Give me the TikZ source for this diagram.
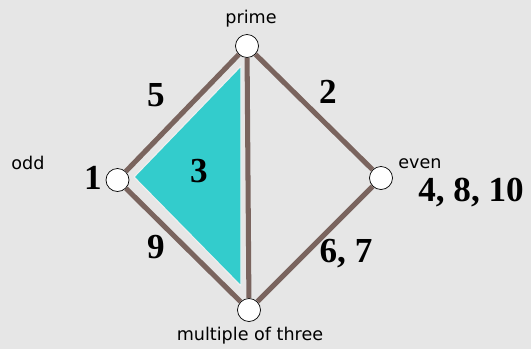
\documentclass[tikz,border=0pt]{standalone}
\usepackage{fontspec}
\setmainfont{Liberation Serif}
\setsansfont{DejaVu Sans}
\definecolor{SetBack}{HTML}{E6E6E6}
\definecolor{SetEdge}{HTML}{7A645E}
\definecolor{SetCyan}{HTML}{33CCCC}
\definecolor{SetGap}{HTML}{EFEFEF}
\tikzset{
  vert/.style={circle,draw=black,fill=white,line width=0.6pt,inner sep=0pt,minimum size=6.9mm},
  edge/.style={SetEdge,line width=4.3pt},
  lbl/.style={inner sep=0pt,font=\sffamily\fontsize{15}{18}\selectfont},
  num/.style={inner sep=0pt,font=\bfseries\fontsize{30}{30}\selectfont}
}

\begin{document}
\begin{tikzpicture}[x=0.3mm,y=-0.3mm]
\fill[SetBack] (0,0) rectangle (531,349);
\useasboundingbox (0,0) rectangle (531,349);
% the four sets
\node[vert] (prime) at (247,46) {};
\node[vert] (odd) at (117.5,180) {};
\node[vert] (even) at (381,178) {};
\node[vert] (three) at (249,310) {};
% shaded region
\filldraw[fill=SetCyan,draw=SetGap,line width=1pt,line join=round] (134,177) -- (241,66) -- (241,286) -- cycle;
\draw[edge] (prime) -- (odd);
\draw[edge] (prime) -- (even);
\draw[edge] (odd) -- (three);
\draw[edge] (even) -- (three);
\draw[edge] (prime) -- (three);
% names
\node[lbl] (lprime) at (251,19) {prime};
\node[lbl] (lodd) at (28,163) {odd};
\node[lbl] (leven) at (420,164) {even};
\node[lbl] (lthree) at (250,336) {multiple of three};
% numbers
\node[num] (n5) at (156,95) {5};
\node[num] (n2) at (328,92) {2};
\node[num] (n3) at (199,171) {3};
\node[num] (n1) at (93,178) {1};
\node[num] (n9) at (156,247) {9};
\node[num] (n67) at (346,254) {6, 7};
\node[num] (n4810) at (471,193) {4, 8, 10};
\end{tikzpicture}
\end{document}
